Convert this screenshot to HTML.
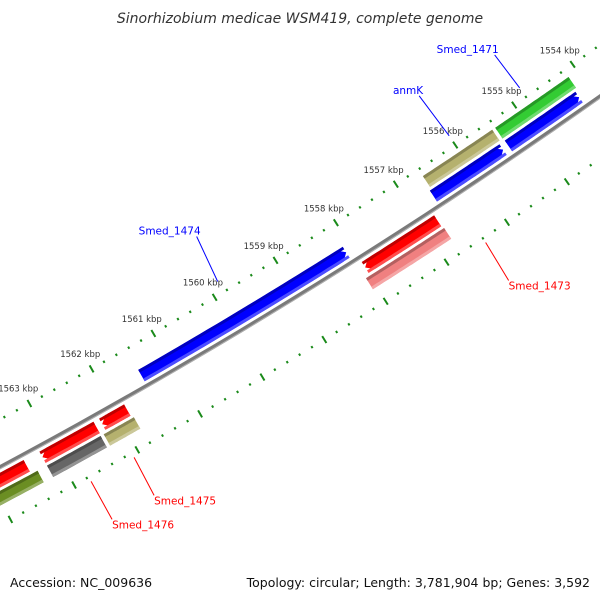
<!DOCTYPE html>
<html><head><meta charset="utf-8"><style>
html,body{margin:0;padding:0;background:#fff;}
svg{display:block;font-family:"DejaVu Sans","Liberation Sans",sans-serif;}
</style></head><body>
<svg id="map" width="600" height="600" viewBox="0 0 600 600" xmlns="http://www.w3.org/2000/svg">
<rect width="600" height="600" fill="#fff"/>
<text x="300" y="23" text-anchor="middle" font-size="14" font-style="italic" fill="#333">Sinorhizobium medicae WSM419, complete genome</text>
<g id="ticks"></g>
<g id="feats"></g>
<g id="labels"></g>
<text x="10" y="587" font-size="12.5" fill="#111">Accession: NC_009636</text>
<text x="590" y="587" text-anchor="end" font-size="12.5" fill="#111">Topology: circular; Length: 3,781,904 bp; Genes: 3,592</text>
</svg>
<script>
var featNames=["Smed_1471","anmK","blue-a","blue-b","Smed_1474","Smed_1473","Smed_1473_b","red-left","Smed_1475_red","Smed_1476_red","olive","Smed_1476","Smed_1475"];
var featStart=[1555.40,1556.62,1556.65,1555.39,1561.44,1557.99,1558.06,1565.5,1563.20,1562.25,1565.5,1563.20,1562.30];
var featEnd=[1554.15,1555.45,1555.48,1554.19,1558.10,1556.79,1556.77,1563.45,1562.34,1561.85,1563.35,1562.35,1561.82];
var featRing=[2,2,1,1,1,3,4,3,3,3,4,4,4];
var featArrow=[0,0,-1,-1,-1,1,0,0,1,1,0,0,0];
var featColor=["#33cc33","#b5b16e","#0000ff","#0000ff","#0000ff","#ff0000","#f08080","#ff0000","#ff0000","#ff0000","#6b8e23","#666666","#b5b16e"];
var tickMajors=[1554,1555,1556,1557,1558,1559,1560,1561,1562,1563];
var geneLabels=["Smed_1471","anmK","Smed_1474","Smed_1473","Smed_1475","Smed_1476"];
var geneLabelKbp=[1554.8,1556.0,1559.85,1556.4,1562.09,1562.77];
var geneLabelColor=["#0000ff","#0000ff","#0000ff","#ff0000","#ff0000","#ff0000"];
(function(){
var CX=-2687,CY=-4553,R0=5694,RIN=5652,ROUT=5745;
var ringR={1:[5676,5689],2:[5660,5673],3:[5699,5712],4:[5715,5728]};
var labelR=[5641,5641,5640,5750,5750,5750];
var labelOff=[[-25,-33],[-30,-40],[-21,-45],[23,38],[20,38],[21,38]];
var NS="http://www.w3.org/2000/svg";
function ang(k){return (59.11+(k-1560)*0.7217)*Math.PI/180;}
function pt(k,r){var a=ang(k);return [CX+r*Math.cos(a),CY+r*Math.sin(a)];}
function mk(tag,at,parent){var e=document.createElementNS(NS,tag);for(var k in at)e.setAttribute(k,at[k]);parent.appendChild(e);return e;}
function arcPath(k1,k2,r){var p=[];var n=30;for(var i=0;i<=n;i++){p.push(pt(k1+(k2-k1)*i/n,r));}return p;}
function ps(p){return p.map(function(q){return q[0].toFixed(1)+","+q[1].toFixed(1);}).join(" ");}
var tg=document.getElementById('ticks'),fg=document.getElementById('feats'),lg=document.getElementById('labels'),svg=document.getElementById('map');
var bb=mk('polyline',{points:ps(arcPath(1553,1566,R0)),fill:'none',stroke:'#7a7a7a','stroke-width':4},svg);


svg.insertBefore(bb,fg);
var bb2=mk('polyline',{points:ps(arcPath(1553,1566,R0+1.5)),fill:'none',stroke:'#b0b0b0','stroke-width':1},svg);


svg.insertBefore(bb2,fg);
for(var i=0;i<=60;i++){var k=1553+i*0.2;var major=Math.abs(k-Math.round(k))<0.01;
 [RIN,ROUT].forEach(function(r){var h=major?4:1.2;var a=pt(k,r-h),b=pt(k,r+h);
  var t=mk('line',{x1:a[0],y1:a[1],x2:b[0],y2:b[1],stroke:'#1a8a1a','stroke-width':2},tg);
  
  });}
tickMajors.forEach(function(k){var p=pt(k,RIN-17);
 var t=mk('text',{x:p[0]-3,y:p[1]+3,'text-anchor':'middle','font-size':'8.5',fill:'#333'},tg);t.textContent=k+' kbp';
 
 });
function shade(c,f){var n=parseInt(c.slice(1),16);var r=n>>16,g=(n>>8)&255,b=n&255;function m(v){return Math.max(0,Math.min(255,Math.round(f>0?v+(255-v)*f:v*(1+f))));}return 'rgb('+m(r)+','+m(g)+','+m(b)+')';}
function band(k1,k2,ri,ro,arrow,headK){
 var s=arrow? (arrow<0? Math.min(k1,k2):Math.max(k1,k2)):null;
 var lo=Math.min(k1,k2),hi=Math.max(k1,k2);
 if(arrow<0){lo+=headK;} if(arrow>0){hi-=headK;}
 var pts=arcPath(lo,hi,ri);
 if(arrow>0){pts.push(pt(s,(ri+ro)/2));}
 pts=pts.concat(arcPath(hi,lo,ro));
 if(arrow<0){pts.push(pt(s,(ri+ro)/2));}
 return pts;}
for(var j=0;j<featNames.length;j++){var rr=ringR[featRing[j]];var col=featColor[j];
 var grp=mk('g',{},fg);
 
 
 var body=mk('polygon',{points:ps(band(featStart[j],featEnd[j],rr[0],rr[1],featArrow[j],0.1)),fill:col},grp);
 
 
 var topStrip=mk('polygon',{points:ps(band(featStart[j],featEnd[j],rr[0],rr[0]+3,0,0)),fill:shade(col,-0.25)},grp);
 
 
 var botStrip=mk('polygon',{points:ps(band(featStart[j],featEnd[j],rr[1]-3,rr[1],0,0)),fill:shade(col,0.3)},grp);
 
 }
for(var j=0;j<geneLabels.length;j++){var nm=geneLabels[j];var outerSide=geneLabelColor[j]=="#ff0000";
 var p1=pt(geneLabelKbp[j],labelR[j]);var o=labelOff[j];
 var p2=[p1[0]+o[0],p1[1]+o[1]];
 var ln=mk('line',{x1:p1[0],y1:p1[1],x2:p2[0],y2:p2[1],stroke:geneLabelColor[j],'stroke-width':1},lg);
 
 
 var tx=mk('text',{x:outerSide?p2[0]:p2[0]+4,y:outerSide?p2[1]+9:p2[1]-2,'text-anchor':outerSide?'start':'end','font-size':'10.5',fill:geneLabelColor[j]},lg);tx.textContent=nm;
 
 }
})();
</script>
</body></html>
